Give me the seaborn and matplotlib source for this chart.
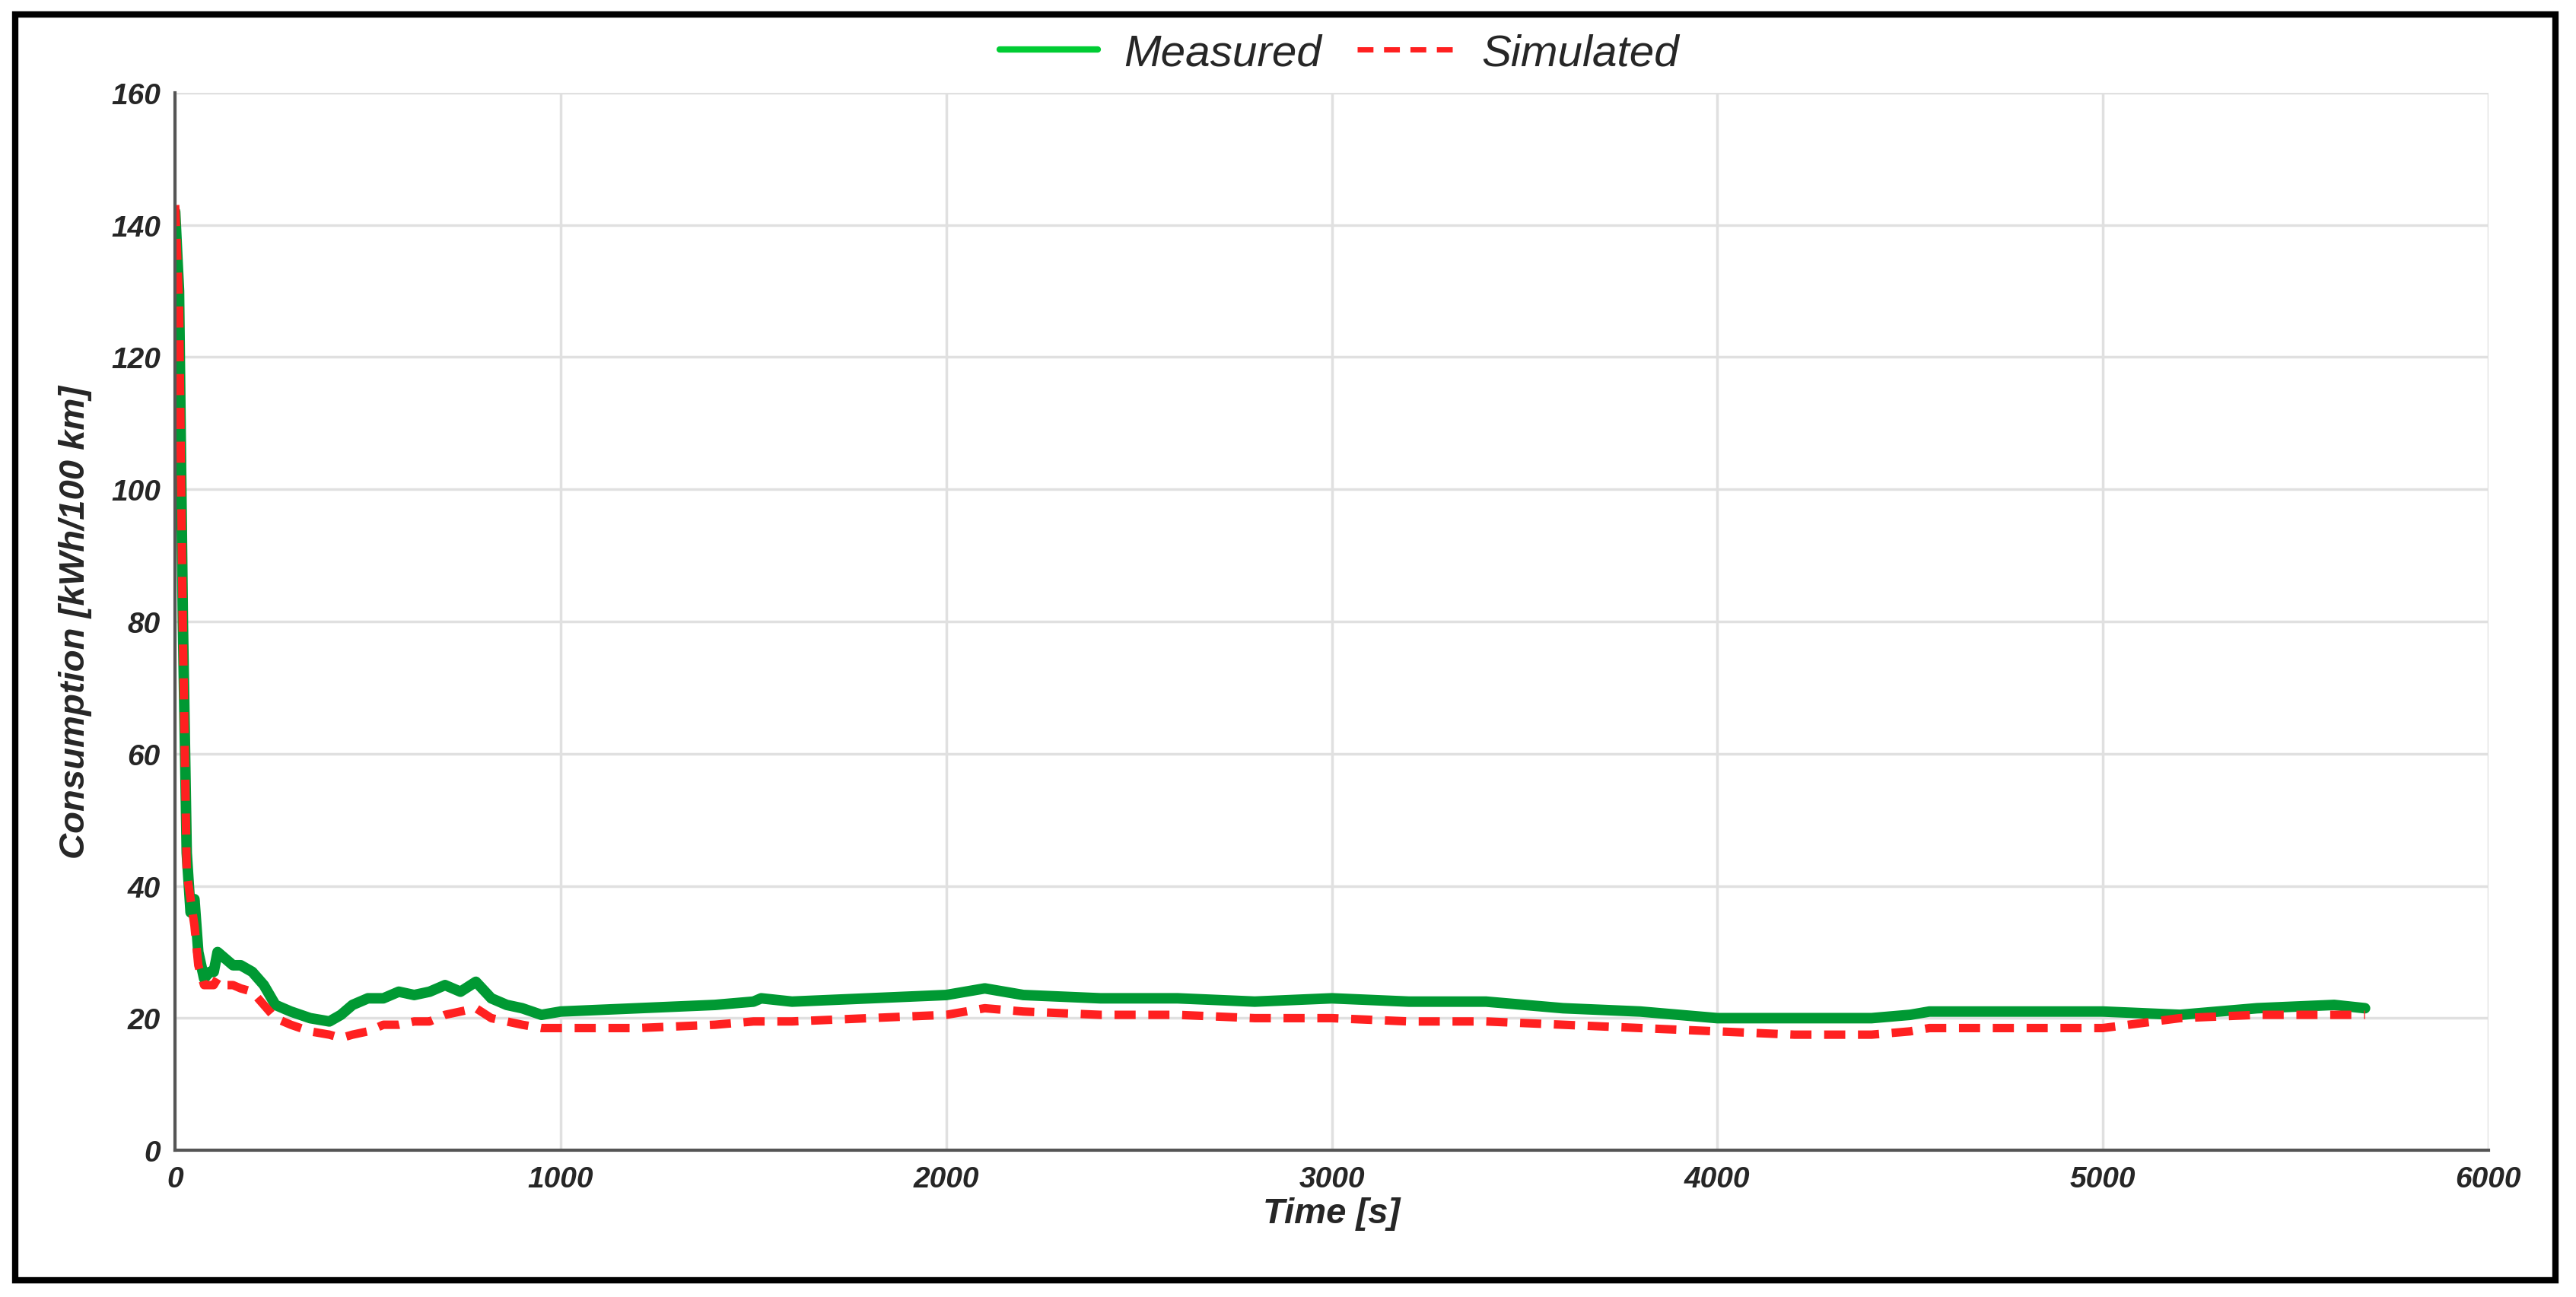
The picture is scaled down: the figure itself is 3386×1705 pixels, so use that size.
import numpy as np
import pandas as pd
import matplotlib
matplotlib.use("Agg")
import matplotlib.pyplot as plt
import seaborn as sns
from matplotlib.patches import Rectangle

time_s = [0, 10, 20, 30, 40, 50, 60, 75, 90, 100, 110, 130, 150, 170, 200, 230, 260, 300, 350, 400, 430, 460, 500, 540, 580, 620, 660, 700, 740, 780, 820, 860, 900, 950, 1000, 1200, 1400, 1500, 1520, 1600, 1800, 2000, 2100, 2200, 2400, 2600, 2800, 3000, 3200, 3400, 3600, 3800, 4000, 4200, 4400, 4500, 4550, 4800, 5000, 5200, 5400, 5600, 5680]
measured = [142, 130, 80, 45, 36, 38, 30, 26, 27, 27, 30, 29, 28, 28, 27, 25, 22, 21, 20, 19.5, 20.5, 22, 23, 23, 24, 23.5, 24, 25, 24, 25.5, 23, 22, 21.5, 20.5, 21, 21.5, 22, 22.5, 23, 22.5, 23, 23.5, 24.5, 23.5, 23, 23, 22.5, 23, 22.5, 22.5, 21.5, 21, 20, 20, 20, 20.5, 21, 21, 21, 20.5, 21.5, 22, 21.5]
simulated = [143, 128, 78, 42, 38, 34, 28, 25, 25, 25, 26, 25, 25, 24.5, 24, 22, 20, 19, 18, 17.5, 17, 17.5, 18, 19, 19, 19.5, 19.5, 20.5, 21, 21.5, 20, 19.5, 19, 18.5, 18.5, 18.5, 19, 19.5, 19.5, 19.5, 20, 20.5, 21.5, 21, 20.5, 20.5, 20, 20, 19.5, 19.5, 19, 18.5, 18, 17.5, 17.5, 18, 18.5, 18.5, 18.5, 20, 20.5, 20.5, 20.5]

df = pd.DataFrame({"t": time_s, "Measured": measured, "Simulated": simulated})

sns.set_theme(style="white")
plt.rcParams['font.family'] = ['Liberation Sans', 'DejaVu Sans']

fig = plt.figure(figsize=(33.86, 17.06), dpi=100)
ax = fig.add_axes([0.068, 0.113, 0.898, 0.815])

sns.lineplot(data=df, x="t", y="Measured", ax=ax, color="#009933", lw=10, label="Measured", legend=False)
sns.lineplot(data=df, x="t", y="Simulated", ax=ax, color="#ff2020", lw=8, linestyle=(0, (2.5, 1.5)), label="Simulated", legend=False)

ax.set_xlim(0, 6000)
ax.set_ylim(0, 160)
ax.set_xticks(range(0, 6001, 1000))
ax.set_yticks(range(0, 161, 20))
ax.grid(True, color="#e0e0e0", lw=2.5)
for s in ["top", "right"]:
    ax.spines[s].set_visible(False)
for s in ["left", "bottom"]:
    ax.spines[s].set_color("#555555")
    ax.spines[s].set_linewidth(3)
ax.tick_params(axis="both", labelsize=28, length=0, pad=14)
for lab in ax.get_xticklabels() + ax.get_yticklabels():
    lab.set_fontweight("bold"); lab.set_fontstyle("italic")
ax.set_xlabel("Time [s]", fontsize=34, fontweight="bold", fontstyle="italic", labelpad=4)
ax.set_ylabel("Consumption [kWh/100 km]", fontsize=34, fontweight="bold", fontstyle="italic", labelpad=18)

h = [plt.Line2D([], [], color="#00cc33", lw=6),
     plt.Line2D([], [], color="#ff2020", lw=5, linestyle=(0, (3, 2)))]
fig.legend(h, ["Measured", "Simulated"], loc="center", bbox_to_anchor=(0.52, 0.958), ncol=2,
           frameon=False, prop={"size": 42, "style": "italic"}, handlelength=2.2, columnspacing=0.8, handletextpad=0.6)

fig.patches.append(Rectangle((0.006, 0.013), 0.986, 0.975, transform=fig.transFigure, fill=False, ec="black", lw=6))
fig.savefig("out.png", dpi=100, facecolor="white")
